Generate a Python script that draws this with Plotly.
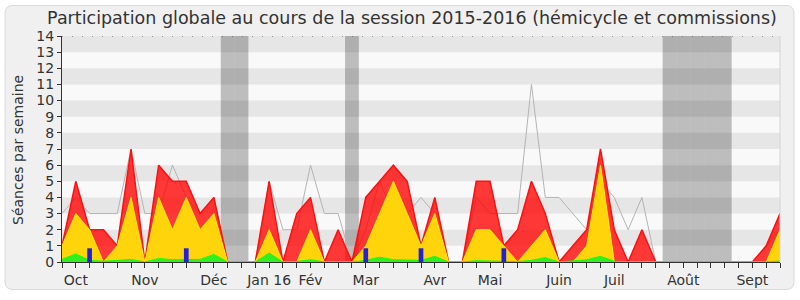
import plotly.graph_objects as go

weeks = list(range(53))
# total presence (red), hemicycle (yellow), interventions (green), median (gray)
presence = [1, 5, 2, 2, 1, 7, 0, 6, 5, 5, 3, 4, 0, 0, 0, 5, 0, 3, 4, 0, 2, 0, 4, 5, 6, 5, 1, 4, 0, 0,
            5, 5, 1, 2, 5, 3, 0, 1, 2, 7, 2, 0, 2, 0, 0, 0, 0, 0, 0, 0, 0, 1, 3]
hemicycle = [1, 3, 2, 0, 1, 4, 0, 4, 2, 4, 2, 3, 0, 0, 0, 2, 0, 0, 2, 0, 0, 0, 1, 3, 5, 3, 1, 3, 0, 0,
             2, 2, 1, 0, 1, 2, 0, 0, 1, 6, 0, 0, 0, 0, 0, 0, 0, 0, 0, 0, 0, 0, 2]
interventions = [0.16, 0.5, 0.1, 0.05, 0.1, 0.16, 0, 0.22, 0.14, 0.14, 0.16, 0.47, 0, 0, 0, 0.55, 0, 0.03,
                 0.14, 0, 0.03, 0, 0.1, 0.3, 0.14, 0.12, 0.1, 0.35, 0, 0, 0.08, 0.06, 0.06, 0.02, 0.1,
                 0.27, 0, 0.05, 0.14, 0.35, 0.05, 0, 0, 0, 0, 0, 0, 0, 0, 0, 0, 0, 0.06]
median = [3, 4, 3, 3, 3, 7, 3, 3, 6, 4, 3, 4, 0, 0, 0, 5, 2, 2, 6, 3, 3, 0, 2, 5, 3, 3, 4, 3, 0, 0,
          4, 3, 3, 3, 11, 4, 4, 3, 2, 5, 4, 2, 4, 0, 0, 0, 0, 0, 0, 0, 0, 1, 2]
question_weeks = [2, 9, 22, 26, 32]
question_vals = [0.85, 0.85, 0.85, 0.85, 0.85]
vacation_weeks = [12, 13, 21, 44, 45, 46, 47, 48]
month_ticks = {1: "Oct", 6: "Nov", 11: "Déc", 15: "Jan 16", 18: "Fév", 22: "Mar", 27: "Avr",
               31: "Mai", 36: "Juin", 40: "Juil", 45: "Août", 50: "Sept"}
title = "Participation globale au cours de la session 2015-2016 (hémicycle et commissions)"
ytitle = "Séances par semaine"

FONT = "DejaVu Sans"
TXT = "#333333"

fig = go.Figure()
fig.add_trace(go.Scatter(x=weeks, y=median, mode="lines", line=dict(color="#b4b4b4", width=1),
                         hoverinfo="skip"))
fig.add_trace(go.Scatter(x=weeks, y=presence, mode="lines", fill="tozeroy",
                         fillcolor="rgba(255,0,0,0.78)", line=dict(color="#ff1010", width=1.5),
                         hoverinfo="skip"))
fig.add_trace(go.Scatter(x=weeks, y=hemicycle, mode="lines", fill="tozeroy",
                         fillcolor="#ffd40a", line=dict(color="#ffee00", width=1),
                         hoverinfo="skip"))
fig.add_trace(go.Scatter(x=weeks, y=interventions, mode="lines", fill="tozeroy",
                         fillcolor="#33ee22", line=dict(color="#11ff00", width=1),
                         hoverinfo="skip"))
fig.add_trace(go.Bar(x=question_weeks, y=question_vals, width=0.34, xaxis="x2", yaxis="y2",
                     marker=dict(color="#2222dd", line=dict(width=0)), hoverinfo="skip"))

shapes = []
# outer rounded frame (paper coords: x pixel -> (px-62)/718, y pixel -> (266-py)/230)
def px(p):
    return (p - 62) / 718.0
def py(p):
    return (266 - p) / 230.0
L, R, T, B, r = 5, 794, 5, 294, 8
path = (f"M {px(L+r)},{py(T)} L {px(R-r)},{py(T)} Q {px(R)},{py(T)} {px(R)},{py(T+r)} "
        f"L {px(R)},{py(B-r)} Q {px(R)},{py(B)} {px(R-r)},{py(B)} "
        f"L {px(L+r)},{py(B)} Q {px(L)},{py(B)} {px(L)},{py(B-r)} "
        f"L {px(L)},{py(T+r)} Q {px(L)},{py(T)} {px(L+r)},{py(T)} Z")
shapes.append(dict(type="path", path=path, xref="paper", yref="paper", fillcolor="#f0f0f0",
                   line=dict(color="#dadada", width=1), layer="below"))
# plot background
shapes.append(dict(type="rect", xref="paper", yref="y", x0=0, x1=1, y0=0, y1=14,
                   fillcolor="#f9f9f9", line=dict(width=0), layer="below"))
for k in range(1, 14, 2):
    shapes.append(dict(type="rect", xref="paper", yref="y", x0=0, x1=1, y0=k, y1=k + 1,
                       fillcolor="#e6e6e6", line=dict(width=0), layer="below"))
for w in vacation_weeks:
    shapes.append(dict(type="rect", xref="x", yref="y", x0=w - 0.5, x1=w + 0.5, y0=0, y1=14,
                       fillcolor="rgba(0,0,0,0.24)", line=dict(width=0), layer="below"))
# top dotted line and right edge
shapes.append(dict(type="line", xref="paper", yref="y", x0=0, x1=1, y0=14, y1=14,
                   line=dict(color="#444444", width=1, dash="1px,9px")))
shapes.append(dict(type="line", xref="paper", yref="y", x0=1, x1=1, y0=0, y1=14,
                   line=dict(color="#d4d4d4", width=1)))

fig.update_layout(
    width=800, height=300,
    margin=dict(l=62, r=20, t=36, b=34),
    paper_bgcolor="white", plot_bgcolor="rgba(0,0,0,0)",
    showlegend=False, barmode="overlay",
    shapes=shapes,
    font=dict(family=FONT, color=TXT, size=14),
    title=dict(text=title, x=412 / 800, xanchor="center", y=1 - 18 / 300, yanchor="middle",
               xref="container", yref="container", font=dict(family=FONT, size=17.5, color=TXT)),
    annotations=[dict(text=ytitle, textangle=-90, xref="paper", yref="paper",
                      x=px(18), y=py(152), xanchor="center", yanchor="middle", showarrow=False,
                      font=dict(family=FONT, size=14, color=TXT))],
    xaxis=dict(range=[0, 52], tickmode="array", tickvals=weeks,
               ticktext=[month_ticks.get(w, "") for w in weeks],
               ticks="outside", ticklen=5, tickcolor="#333333", showline=True, linecolor="#333333",
               showgrid=False, zeroline=False, tickfont=dict(size=14, color=TXT), fixedrange=True),
    yaxis=dict(range=[0, 14], tickmode="array", tickvals=list(range(15)),
               ticks="outside", ticklen=4, tickcolor="#333333", showline=True,
               linecolor="#333333", showgrid=False, zeroline=False,
               tickfont=dict(size=14, color=TXT), fixedrange=True),
    xaxis2=dict(overlaying="x", range=[0, 52], visible=False, fixedrange=True),
    yaxis2=dict(overlaying="y", range=[0, 14], visible=False, fixedrange=True),
)

fig.write_html("out.html")
